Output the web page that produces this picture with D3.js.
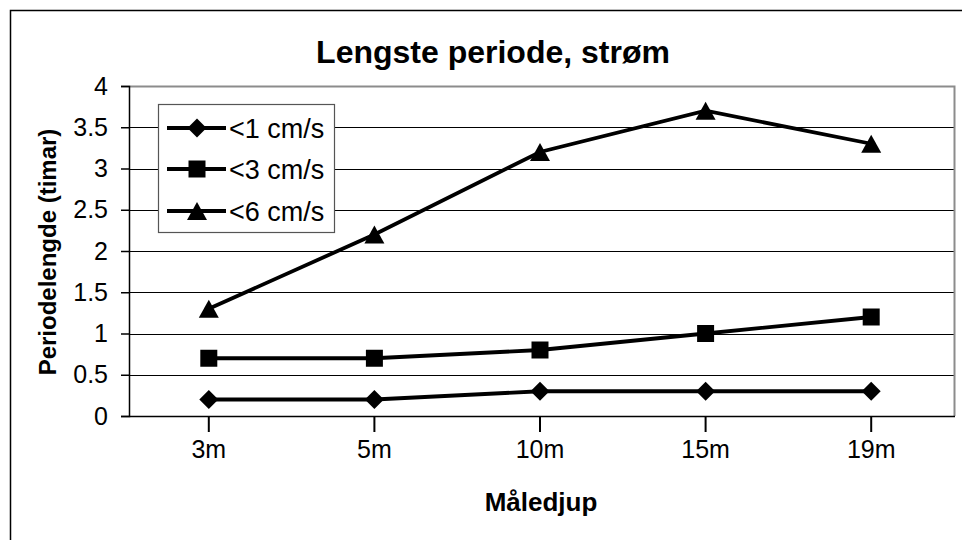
<!DOCTYPE html>
<html><head><meta charset="utf-8">
<script src="https://cdn.jsdelivr.net/npm/d3@7"></script>
<style>body{margin:0;background:#fff}svg{display:block;font-family:Arial,"Liberation Sans",sans-serif}</style>
</head><body>
<svg id="c" width="962" height="540"></svg>
<script>
const categories = ["3m","5m","10m","15m","19m"];
const seriesNames = ["<1 cm/s","<3 cm/s","<6 cm/s"];
const s1 = [0.2,0.2,0.3,0.3,0.3];
const s2 = [0.7,0.7,0.8,1.0,1.2];
const s3 = [1.3,2.2,3.2,3.7,3.3];
const yTicks = [0,0.5,1,1.5,2,2.5,3,3.5,4];
const titleText = "Lengste periode, strøm";
const xTitle = "Måledjup";
const yTitle = "Periodelengde (timar)";

const FF = "Arial,'Liberation Sans',sans-serif";
const svg = d3.select("#c");
svg.append("rect").attr("width",962).attr("height",540).attr("fill","#fff");
svg.append("rect").attr("x",10.5).attr("y",10.5).attr("width",1000).attr("height",1000)
  .attr("fill","none").attr("stroke","#000").attr("stroke-width",1.5);

const L=129, R=955, T=86, B=416;
const x = d3.scaleBand().domain(categories).range([126,954]).padding(0);
const y = d3.scaleLinear().domain([0,4]).range([B,T]);

svg.append("g").selectAll("line").data(yTicks.slice(1,-1)).join("line")
  .attr("x1",L).attr("x2",R).attr("y1",d=>Math.round(y(d))+0.5).attr("y2",d=>Math.round(y(d))+0.5)
  .attr("stroke","#000").attr("stroke-width",1);
svg.append("path").attr("d",`M${L},${T+0.5}H${R-0.5}V${B}`).attr("fill","none").attr("stroke","#8c8c8c").attr("stroke-width",2);

const ya = svg.append("g").attr("transform",`translate(${L},0)`)
  .call(d3.axisLeft(y).tickValues(yTicks).tickFormat(d=>String(d)).tickSize(8).tickPadding(13));
ya.select(".domain").attr("stroke","#000").attr("stroke-width",1.5);
ya.selectAll(".tick line").attr("stroke","#000").attr("stroke-width",1.5);
ya.selectAll("text").attr("font-size",25).attr("fill","#000").attr("font-family",FF);

const xa = svg.append("g").attr("transform",`translate(0,${B})`)
  .call(d3.axisBottom(x).tickSize(16).tickPadding(8).tickSizeOuter(0));
xa.select(".domain").attr("d",`M${L},0.5H${R}`).attr("stroke","#000").attr("stroke-width",1.5);
xa.selectAll(".tick line").attr("stroke","#000").attr("stroke-width",2);
xa.selectAll("text").attr("font-size",25).attr("fill","#000").attr("font-family",FF);

const cx = c => x(c)+x.bandwidth()/2;
const diamond = "M0,-9.5L9.5,0L0,9.5L-9.5,0Z";
const square = "M-8.5,-8.5H8.5V8.5H-8.5Z";
const tri = "M0,-9L10,9H-10Z";
const shapes = [diamond, square, tri];
const all = [s1,s2,s3];
const line = d3.line().x((d,i)=>cx(categories[i])).y(d=>y(d));
all.forEach((vals,k)=>{
  svg.append("path").attr("d",line(vals)).attr("fill","none").attr("stroke","#000").attr("stroke-width",3.8);
  svg.append("g").selectAll("path").data(vals).join("path")
    .attr("transform",(d,i)=>`translate(${cx(categories[i])},${y(d)})`)
    .attr("d",shapes[k]).attr("fill","#000");
});

svg.append("rect").attr("x",158.5).attr("y",104.5).attr("width",176).attr("height",128)
  .attr("fill","#fff").attr("stroke","#555").attr("stroke-width",1.2);
const ly=[128,169,211];
seriesNames.forEach((n,k)=>{
  svg.append("line").attr("x1",167).attr("x2",226).attr("y1",ly[k]).attr("y2",ly[k]).attr("stroke","#000").attr("stroke-width",3.8);
  svg.append("path").attr("transform",`translate(197,${ly[k]})`).attr("d",shapes[k]).attr("fill","#000");
  svg.append("text").attr("x",229).attr("y",ly[k]).attr("dy","0.36em").attr("font-size",27).text(n);
});

svg.append("text").attr("x",493).attr("y",51).attr("dy","0.36em").attr("text-anchor","middle")
  .attr("font-size",32).attr("font-weight","bold").text(titleText);
svg.append("text").attr("x",541).attr("y",502).attr("dy","0.36em").attr("text-anchor","middle")
  .attr("font-size",26).attr("font-weight","bold").text(xTitle);
svg.append("text").attr("transform",`translate(47,252) rotate(-90)`).attr("dy","0.36em").attr("text-anchor","middle")
  .attr("font-size",24).attr("font-weight","bold").text(yTitle);
</script>
</body></html>
